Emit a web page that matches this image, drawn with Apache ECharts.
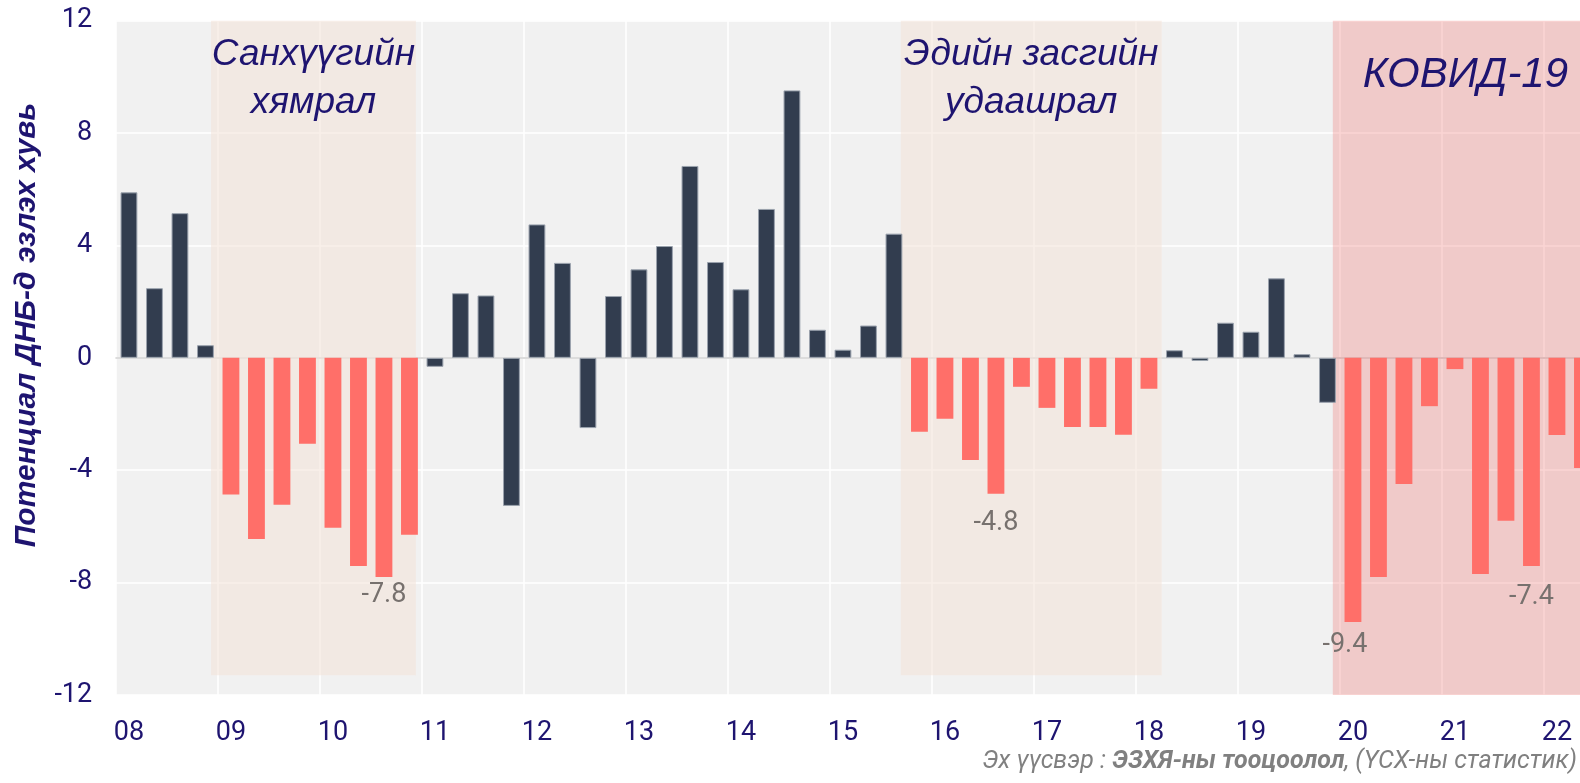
<!DOCTYPE html>
<html>
<head>
<meta charset="utf-8">
<script src="https://cdn.jsdelivr.net/npm/echarts@6/dist/echarts.min.js"></script>
<style>
  html, body { margin: 0; padding: 0; background: #fff; }
  #chart { width: 1580px; height: 783px; }
</style>
</head>
<body>
<div id="chart"></div>
<script>
// улирал бүр: 2008Q1 .. 2022Q2
var years = ['08','09','10','11','12','13','14','15','16','17','18','19','20','21','22'];
var quarters = [];
years.forEach(function (y) {
  ['Q1','Q2','Q3','Q4'].forEach(function (q) { quarters.push(y + q); });
});
quarters = quarters.slice(0, 58);

// потенциал ДНБ-д эзлэх хувь (гарцын зөрүү)
var gap = [
  5.89, 2.48, 5.15, 0.45,
  -4.86, -6.45, -5.23, -3.06,
  -6.05, -7.41, -7.8, -6.3,
  -0.32, 2.3, 2.22, -5.27,
  4.75, 3.38, -2.5, 2.2,
  3.15, 3.98, 6.83, 3.41,
  2.44, 5.3, 9.52, 1.0,
  0.29, 1.15, 4.42, -2.63,
  -2.17, -3.64, -4.84, -1.03,
  -1.78, -2.46, -2.46, -2.74,
  -1.1, 0.27, -0.11, 1.25,
  0.93, 2.83, 0.13, -1.6,
  -9.4, -7.8, -4.49, -1.72,
  -0.4, -7.69, -5.8, -7.41,
  -2.75, -3.92
];

// хямралын үеүүд (улирлын дугаар, эхлэх - дуусах)
var crisisBars = [[4, 11], [31, 40], [48, 57]];
// тайлбар талбайн хүрээ (улирлын тэнхлэг дээр)
var bandNames = ['Санхүүгийн\nхямрал', 'Эдийн засгийн\nудаашрал', 'КОВИД-19'];
var bandFrom = [3.22, 30.27, 47.21];
var bandTo = [11.25, 40.5, null];

// тэмдэглэсэн утгууд
var labelled = {10: [0, 5], 34: [0, 16], 48: [-8, 10], 55: [0, 18]};

function isCrisis(i) {
  for (var k = 0; k < crisisBars.length; k++) {
    if (i >= crisisBars[k][0] && i <= crisisBars[k][1]) return true;
  }
  return false;
}

var barData = gap.map(function (v, i) {
  var red = isCrisis(i);
  var item = {
    value: v,
    itemStyle: red
      ? {color: '#ff6f69', borderWidth: 0}
      : {color: '#323d4f', borderColor: '#9aa2ad', borderWidth: 1}
  };
  if (labelled[i]) {
    item.label = {
      show: true,
      position: 'bottom',
      distance: labelled[i][1],
      offset: [labelled[i][0], 0],
      formatter: function (p) { return p.value.toFixed(1); },
      color: '#77716e',
      fontSize: 27,
      fontFamily: 'Roboto'
    };
  }
  return item;
});

var navy = '#1e1470';
var bandLabel = {
  show: true,
  position: 'insideTop',
  distance: 10,
  color: navy,
  fontSize: 37,
  lineHeight: 48,
  fontStyle: 'italic',
  fontFamily: '"Liberation Sans"'
};

var chart = echarts.init(document.getElementById('chart'));
chart.setOption({
  animation: false,
  grid: {
    left: 116.2,
    top: 20.7,
    bottom: 88,
    right: -15.2,
    show: true,
    backgroundColor: '#f1f1f1',
    borderWidth: 0,
    outerBoundsMode: 'none'
  },
  xAxis: [{
    type: 'category',
    data: quarters,
    boundaryGap: true,
    axisLine: {onZero: true, lineStyle: {color: '#dcdcdc', width: 2}},
    axisTick: {show: false},
    axisLabel: {
      interval: 3,
      margin: 25,
      color: navy,
      fontSize: 27,
      fontFamily: 'Roboto',
      formatter: function (v) { return v.slice(0, 2); }
    },
    splitLine: {show: true, interval: 3, lineStyle: {color: '#ffffff', width: 1.5}}
  }, {
    type: 'value',
    min: -0.5,
    max: 57.5,
    show: false
  }],
  yAxis: {
    type: 'value',
    min: -12,
    max: 12,
    interval: 4,
    axisLine: {show: false},
    axisTick: {show: false},
    axisLabel: {margin: 24, color: navy, fontSize: 27, fontFamily: 'Roboto'},
    splitLine: {lineStyle: {color: '#ffffff', width: 1.5}}
  },
  series: [{
    type: 'scatter',
    xAxisIndex: 1,
    data: [],
    z: 1,
    silent: true,
    markArea: {
      silent: true,
      itemStyle: {color: 'rgba(243,228,218,0.6)'},
      label: bandLabel,
      data: [0, 1].map(function (k) {
        return [{name: bandNames[k], xAxis: bandFrom[k], yAxis: 12},
                {xAxis: bandTo[k], yAxis: -11.3}];
      })
    }
  }, {
    type: 'bar',
    data: barData,
    barWidth: '66%',
    z: 2
  }, {
    type: 'scatter',
    xAxisIndex: 1,
    data: [],
    z: 6,
    silent: true,
    markArea: {
      silent: true,
      itemStyle: {color: 'rgba(236,55,50,0.21)'},
      label: Object.assign({}, bandLabel, {
        position: 'insideTopLeft',
        offset: [2, 0],
        distance: 28,
        fontSize: 42,
        lineHeight: 54
      }),
      data: [[{name: bandNames[2], xAxis: bandFrom[2], yAxis: 12},
              {xAxis: 'max', yAxis: -12}]]
    }
  }],
  graphic: [{
    type: 'text',
    x: 27,
    y: 325,
    rotation: Math.PI / 2,
    style: {
      text: 'Потенциал ДНБ-д эзлэх хувь',
      fill: navy,
      font: 'italic bold 30px "Liberation Sans", Arial, sans-serif',
      align: 'center',
      verticalAlign: 'middle'
    }
  }, {
    type: 'text',
    right: 3,
    top: 749,
    style: {
      text: '{n|Эх үүсвэр : }{b|ЭЗХЯ-ны тооцоолол}{n|, (ҮСХ-ны статистик)}',
      rich: {
        n: {fontSize: 25, fontStyle: 'italic', fontFamily: 'Roboto', fill: '#808080'},
        b: {fontSize: 25, fontStyle: 'italic', fontWeight: 'bold', fontFamily: 'Roboto', fill: '#808080'}
      }
    }
  }]
});
</script>
</body>
</html>
